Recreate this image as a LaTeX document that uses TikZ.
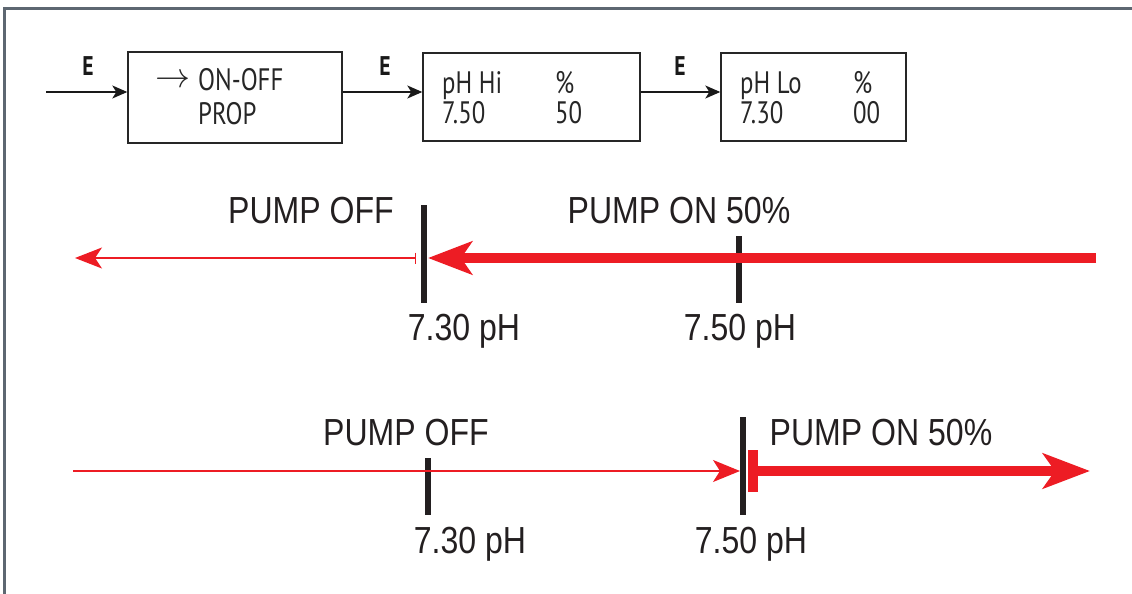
\documentclass[tikz,border=0pt]{standalone}
\usepackage{fontspec}
\setmainfont{Liberation Sans}[FakeStretch=0.85]
\newfontfamily\menufont{PT Sans}[FakeStretch=0.80]
\usetikzlibrary{arrows.meta}
\definecolor{pumpred}{HTML}{ED1C24}
\definecolor{framegray}{HTML}{5D6771}
\definecolor{tickblack}{HTML}{231F20}
\tikzset{
	menubox/.style={draw=black!85, line width=1.4pt, inner sep=0pt},
	menutext/.style={anchor=base west, inner sep=0pt, text=black!85, font=\menufont\fontsize{31}{35}\selectfont},
	elabel/.style={inner sep=0pt, text=black!90, font=\menufont\bfseries\fontsize{27}{30}\selectfont},
	menuarrow/.style={draw=black!90, line width=1.3pt, -{Stealth[length=15pt,width=13pt,inset=4pt]}},
	pumplabel/.style={anchor=base, inner sep=0pt, text=tickblack, font=\fontsize{37.7}{42}\selectfont},
	phtick/.style={draw=tickblack, line width=6pt},
	thinred/.style={draw=pumpred, line width=1.5pt},
	thickred/.style={draw=pumpred, line width=10pt}
}
\begin{document}
\begin{tikzpicture}[x=1pt,y=-1pt]
	\useasboundingbox (0,0) rectangle (1132,594);
	% frame
	\draw[framegray, line width=3pt] (4.5,594) -- (4.5,9) -- (1132,9);
	% menu boxes
	\node[menubox, minimum width=214pt, minimum height=91pt] (mode) at (235,97.5) {};
	\node[menubox, minimum width=217pt, minimum height=88pt] (hi) at (531.5,97) {};
	\node[menubox, minimum width=185pt, minimum height=88pt] (lo) at (813.5,97) {};
	\node[menutext, anchor=west] (modearrow) at (155,81) {\resizebox{35pt}{!}{$\rightarrow$}};
	\node[menutext] (onoff) at (198,90) {ON-OFF};
	\node[menutext] (prop) at (198,124) {PROP};
	\node[menutext] (hiname) at (442,93) {pH Hi};
	\node[menutext] (hipct) at (555,93) {\%};
	\node[menutext] (hival) at (442,123) {7.50};
	\node[menutext] (hirate) at (555,123) {50};
	\node[menutext] (loname) at (740,93) {pH Lo};
	\node[menutext] (lopct) at (853,93) {\%};
	\node[menutext] (loval) at (740,123) {7.30};
	\node[menutext] (lorate) at (853,123) {00};
	% E keys
	\coordinate (entry) at (46,92);
	\node[elabel] (e1) at (88,66) {E};
	\node[elabel] (e2) at (385,66) {E};
	\node[elabel] (e3) at (680,66) {E};
	\draw[menuarrow] (entry) -- (entry -| mode.west);
	\draw[menuarrow] (mode.east |- entry) -- (hi.west |- entry);
	\draw[menuarrow] (hi.east |- entry) -- (lo.west |- entry);
	% pH marks
	\foreach \x/\top/\bot in {424/205/303, 739/236/303, 428/458/515, 743/417/515} {
		\draw[phtick] (\x,\top) -- (\x,\bot);
	}
	% falling pH (upper line)
	\coordinate (offleft) at (75,258);
	\coordinate (offstop) at (416,258);
	\coordinate (onright) at (1096,258);
	\coordinate (onstop) at (428,258);
	\draw[thinred, {Bar[width=11pt]}-{Stealth[length=27pt,width=21pt,inset=7pt]}] (offstop) -- (offleft);
	\draw[thickred, -{Stealth[length=44pt,width=33pt,inset=11pt]}] (onright) -- (onstop);
	\node[pumplabel] (off1) at (311,223) {PUMP OFF};
	\node[pumplabel] (on1) at (679,223) {PUMP ON 50\%};
	\node[pumplabel] (low1) at (464,340) {7.30 pH};
	\node[pumplabel] (high1) at (740,340) {7.50 pH};
	% rising pH (lower line)
	\coordinate (offstart) at (73,471);
	\coordinate (offtip) at (740,471);
	\coordinate (onstart) at (748,471);
	\coordinate (ontip) at (1090,471);
	\draw[thinred, -{Stealth[length=27pt,width=22pt,inset=7pt]}] (offstart) -- (offtip);
	\draw[thickred, {Bar[width=42pt]}-{Stealth[length=47pt,width=35pt,inset=12pt]}] (onstart) -- (ontip);
	\node[pumplabel] (off2) at (406,445) {PUMP OFF};
	\node[pumplabel] (on2) at (881,445) {PUMP ON 50\%};
	\node[pumplabel] (low2) at (470,553) {7.30 pH};
	\node[pumplabel] (high2) at (751,553) {7.50 pH};
\end{tikzpicture}
\end{document}
